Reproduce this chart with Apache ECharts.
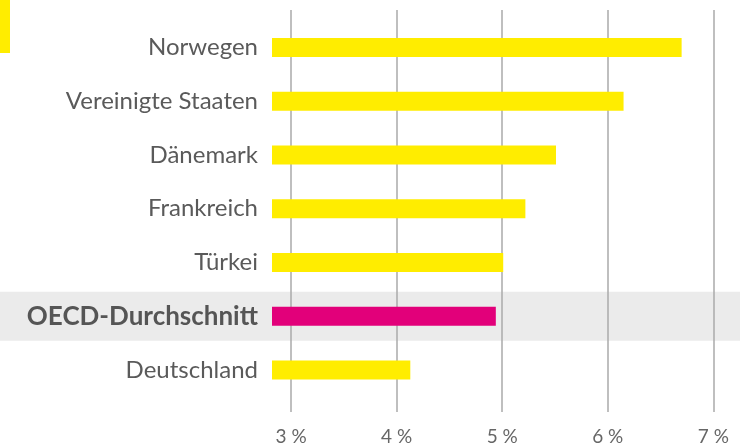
<!DOCTYPE html>
<html>
<head>
<meta charset="utf-8">
<script src="https://cdn.jsdelivr.net/npm/echarts@6/dist/echarts.min.js"></script>
<style>
  html, body { margin: 0; padding: 0; background: #fff; }
  #main { width: 740px; height: 448px; }
</style>
</head>
<body>
<div id="main"></div>
<script>
// values in percent
var countries = ["Norwegen", "Vereinigte Staaten", "Dänemark", "Frankreich", "Türkei", "OECD-Durchschnitt", "Deutschland"];
var shares = [6.70, 6.15, 5.51, 5.22, 5.01, 4.94, 4.13];
var highlight = "OECD-Durchschnitt";
var tickValues = [3, 4, 5, 6, 7];

var yellow = "#ffed00";
var pink = "#e2007a";
var fontName = "Lato";

var myChart = echarts.init(document.getElementById("main"));
var option = {
    animation: false,
    grid: [
        // bars
        { left: 272, right: 26.7, top: 20.6, bottom: 51.1 },
        // vertical grid lines + percent labels
        { left: 291.1, right: 26.7, top: 10, bottom: 36 }
    ],
    xAxis: [
        {
            gridIndex: 0,
            type: "value",
            min: 2.82,
            max: 7,
            axisLine: { show: false },
            axisTick: { show: false },
            axisLabel: { show: false },
            splitLine: { show: false }
        },
        {
            gridIndex: 1,
            type: "value",
            min: tickValues[0],
            max: tickValues[tickValues.length - 1],
            interval: 1,
            axisLine: { show: false },
            axisTick: { show: false },
            splitLine: { show: true, lineStyle: { color: "#aaaaaa", width: 1.5 } },
            axisLabel: {
                margin: 15,
                color: "#666666",
                fontFamily: fontName,
                fontSize: 19,
                formatter: function (v) { return v + " %"; }
            }
        }
    ],
    yAxis: [
        {
            gridIndex: 0,
            type: "category",
            data: countries,
            inverse: true,
            axisLine: { show: false },
            axisTick: { show: false },
            axisLabel: {
                margin: 14,
                formatter: function (v) {
                    return v === highlight ? "{b|" + v + "}" : "{n|" + v + "}";
                },
                rich: {
                    n: { color: "#5a5a5a", fontFamily: fontName, fontSize: 24 },
                    b: { color: "#555555", fontFamily: fontName, fontSize: 26, fontWeight: "bold" }
                }
            }
        },
        {
            gridIndex: 1,
            type: "value",
            show: false
        }
    ],
    series: [
        {
            type: "bar",
            xAxisIndex: 0,
            yAxisIndex: 0,
            barWidth: 19,
            z: 5,
            data: shares.map(function (v, i) {
                return {
                    value: v,
                    itemStyle: { color: countries[i] === highlight ? pink : yellow }
                };
            })
        }
    ]
};
myChart.setOption(option);

// grey band behind the highlighted row, yellow corner mark
var bandY = myChart.convertToPixel({ yAxisIndex: 0 }, highlight);
myChart.setOption({
    graphic: [
        {
            type: "rect",
            z: -10,
            silent: true,
            shape: { x: 0, y: bandY - 24.5, width: 740, height: 49 },
            style: { fill: "#ebebeb" }
        },
        {
            type: "rect",
            z: -10,
            silent: true,
            shape: { x: 0, y: 0, width: 10, height: 53 },
            style: { fill: yellow }
        }
    ]
});
</script>
</body>
</html>
